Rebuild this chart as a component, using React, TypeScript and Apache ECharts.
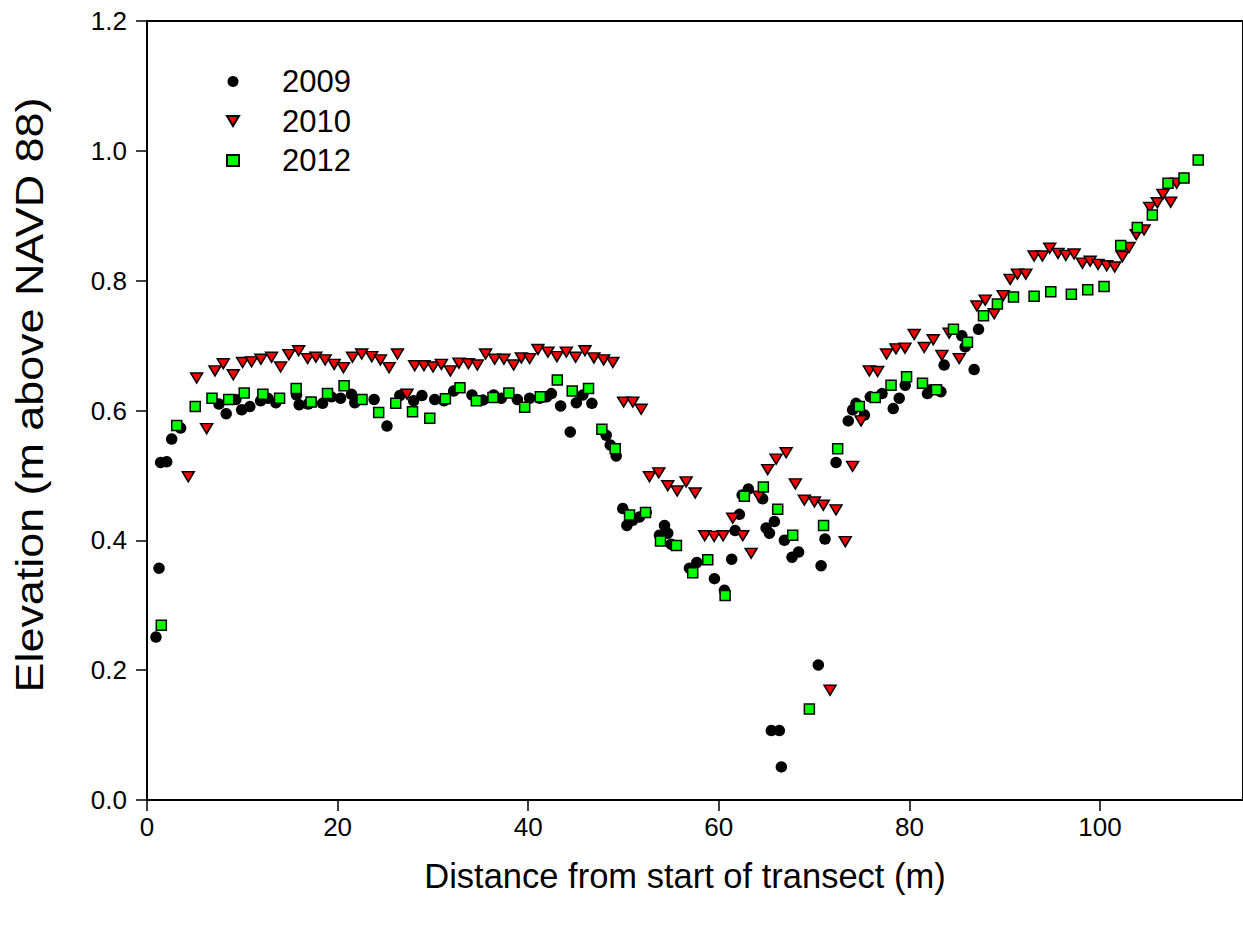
import React, { useEffect, useRef } from "react";
import * as echarts from "echarts";

// Transect survey: distance along transect (m) and elevation (m above NAVD 88)
const dist2009 = [0.94, 1.26, 1.43, 2.07, 2.59, 3.53, 7.55, 8.31, 9.33, 9.93, 10.79, 11.92, 12.68, 13.52, 15.69, 15.97, 16.91, 18.42, 19.36, 20.31, 21.46, 21.8, 23.83, 25.18, 26.52, 27.98, 28.85, 30.19, 31.16, 32.18, 34.1, 35.25, 36.37, 37.18, 38.86, 40.15, 41.2, 41.93, 42.43, 43.4, 44.41, 45.05, 45.73, 46.68, 48.18, 48.61, 49.23, 49.92, 50.35, 50.97, 51.67, 52.38, 53.77, 54.3, 54.64, 55.0, 56.92, 57.69, 59.54, 60.59, 61.35, 61.71, 62.16, 62.45, 63.1, 64.6, 64.96, 65.31, 65.83, 66.88, 67.68, 68.37, 65.51, 66.35, 66.56, 70.44, 70.73, 71.14, 72.3, 73.58, 74.04, 74.4, 75.27, 75.89, 77.12, 78.3, 78.93, 79.56, 81.89, 82.25, 83.3, 83.64, 85.5, 85.85, 86.79, 87.25];
const elev2009 = [0.251, 0.357, 0.52, 0.521, 0.556, 0.573, 0.61, 0.595, 0.617, 0.601, 0.606, 0.615, 0.619, 0.612, 0.624, 0.609, 0.61, 0.611, 0.621, 0.619, 0.625, 0.612, 0.617, 0.576, 0.623, 0.615, 0.623, 0.617, 0.615, 0.63, 0.624, 0.616, 0.624, 0.619, 0.617, 0.619, 0.619, 0.621, 0.626, 0.607, 0.567, 0.612, 0.624, 0.611, 0.562, 0.547, 0.53, 0.449, 0.423, 0.431, 0.436, 0.443, 0.408, 0.423, 0.411, 0.394, 0.357, 0.366, 0.341, 0.323, 0.371, 0.415, 0.44, 0.47, 0.479, 0.464, 0.419, 0.411, 0.429, 0.4, 0.374, 0.382, 0.107, 0.107, 0.051, 0.208, 0.361, 0.402, 0.52, 0.584, 0.601, 0.611, 0.593, 0.621, 0.626, 0.603, 0.619, 0.639, 0.626, 0.632, 0.629, 0.67, 0.715, 0.698, 0.663, 0.725];

const dist2010 = [4.33, 5.21, 6.26, 7.13, 8.0, 9.05, 10.03, 10.97, 11.95, 13.07, 14.02, 14.89, 15.91, 16.85, 17.72, 18.69, 19.64, 20.61, 21.56, 22.53, 23.58, 24.49, 25.4, 26.28, 27.28, 28.09, 29.06, 30.01, 30.89, 31.83, 32.73, 33.72, 34.66, 35.53, 36.48, 37.45, 38.47, 39.28, 40.15, 41.02, 42.07, 43.01, 44.0, 44.97, 45.95, 46.89, 47.91, 48.88, 50.01, 50.97, 51.85, 52.72, 53.7, 54.64, 55.63, 56.57, 57.52, 58.52, 59.51, 60.45, 61.46, 62.51, 63.39, 64.18, 65.13, 66.01, 67.06, 68.03, 68.98, 70.03, 70.96, 71.67, 72.3, 73.27, 74.04, 74.92, 75.79, 76.66, 77.6, 78.59, 79.53, 80.5, 81.55, 82.5, 83.41, 84.17, 85.22, 87.08, 87.95, 88.89, 89.84, 90.57, 91.33, 92.21, 93.08, 93.95, 94.72, 95.59, 96.41, 97.28, 98.15, 98.96, 99.79, 100.7, 101.54, 102.34, 103.04, 103.8, 104.62, 105.21, 106.01, 106.6, 107.41, 108.04];
const elev2010 = [0.498, 0.65, 0.572, 0.661, 0.672, 0.655, 0.674, 0.675, 0.679, 0.682, 0.667, 0.686, 0.692, 0.68, 0.682, 0.678, 0.671, 0.666, 0.682, 0.687, 0.683, 0.678, 0.666, 0.687, 0.625, 0.669, 0.669, 0.667, 0.671, 0.661, 0.673, 0.672, 0.67, 0.687, 0.679, 0.679, 0.67, 0.681, 0.68, 0.694, 0.69, 0.683, 0.69, 0.682, 0.692, 0.681, 0.678, 0.674, 0.613, 0.613, 0.602, 0.498, 0.504, 0.484, 0.476, 0.49, 0.473, 0.407, 0.406, 0.407, 0.434, 0.407, 0.38, 0.468, 0.509, 0.525, 0.535, 0.487, 0.462, 0.459, 0.454, 0.169, 0.447, 0.398, 0.514, 0.584, 0.661, 0.66, 0.687, 0.695, 0.696, 0.717, 0.697, 0.709, 0.685, 0.719, 0.68, 0.761, 0.77, 0.749, 0.777, 0.802, 0.81, 0.81, 0.838, 0.838, 0.85, 0.842, 0.839, 0.841, 0.827, 0.83, 0.825, 0.823, 0.821, 0.837, 0.851, 0.871, 0.878, 0.913, 0.92, 0.933, 0.921, 0.95];

const dist2012 = [1.5, 3.12, 5.06, 6.82, 8.57, 10.2, 12.16, 13.91, 15.65, 17.22, 18.94, 20.68, 22.56, 24.31, 26.1, 27.86, 29.67, 31.31, 32.84, 34.56, 36.3, 37.97, 39.63, 41.27, 43.05, 44.62, 46.33, 47.73, 49.13, 50.63, 52.31, 53.88, 55.55, 57.26, 58.84, 60.66, 62.68, 64.67, 66.18, 67.75, 69.5, 70.99, 72.47, 74.74, 76.41, 78.07, 79.7, 81.37, 82.84, 84.62, 86.09, 87.77, 89.23, 90.92, 93.08, 94.83, 96.99, 98.71, 100.42, 102.17, 103.91, 105.49, 107.13, 108.81, 110.3];
const elev2012 = [0.269, 0.577, 0.606, 0.619, 0.617, 0.627, 0.625, 0.619, 0.634, 0.613, 0.626, 0.638, 0.617, 0.597, 0.611, 0.598, 0.588, 0.618, 0.635, 0.615, 0.62, 0.627, 0.605, 0.621, 0.647, 0.63, 0.634, 0.571, 0.541, 0.439, 0.443, 0.399, 0.392, 0.35, 0.37, 0.315, 0.468, 0.482, 0.448, 0.408, 0.14, 0.423, 0.541, 0.606, 0.62, 0.639, 0.652, 0.642, 0.632, 0.725, 0.705, 0.746, 0.764, 0.775, 0.776, 0.783, 0.779, 0.786, 0.791, 0.854, 0.882, 0.901, 0.95, 0.958, 0.986];

const xTicks = { min: 0, max: 115, interval: 20 };
const yTicks = { min: 0, max: 1.2, interval: 0.2 };

const pairs = (xs: number[], ys: number[]) => xs.map((x, i) => [x, ys[i]]);

const FONT = "'Liberation Sans', Arial, sans-serif";
// downward-pointing triangle used for the 2010 legend entry
const TRIANGLE_DOWN = "path://M0,0 L12,0 L6,10 Z";

export default function App() {
  const ref = useRef<HTMLDivElement>(null);

  useEffect(() => {
    if (!ref.current) return;
    const chart = echarts.init(ref.current, null, { renderer: "svg" });
    const axisText = { color: "#000", fontFamily: FONT, fontSize: 26 };
    chart.setOption({
      animation: false,
      backgroundColor: "#fff",
      grid: {
        left: 147,
        top: 21,
        width: 1097.1,
        height: 779,
        show: true,
        borderColor: "#000",
        borderWidth: 2,
        backgroundColor: "transparent",
      },
      legend: {
        orient: "vertical",
        left: 221,
        top: 61,
        itemWidth: 12,
        itemHeight: 11,
        itemGap: 8.5,
        textStyle: { color: "#000", fontFamily: FONT, fontSize: 31, lineHeight: 30, padding: [0, 0, 0, 38] },
        data: [
          { name: "2009", icon: "circle" },
          { name: "2010", icon: TRIANGLE_DOWN },
          { name: "2012", icon: "rect" },
        ],
      },
      graphic: [
        {
          type: "text",
          x: 30,
          y: 395,
          rotation: Math.PI / 2,
          scaleX: 1.15,
          style: {
            text: "Elevation (m above NAVD 88)",
            fill: "#000",
            fontFamily: FONT,
            fontSize: 39,
            align: "center",
            verticalAlign: "middle",
          },
        },
      ],
      xAxis: {
        type: "value",
        min: xTicks.min,
        max: xTicks.max,
        interval: xTicks.interval,
        name: "Distance from start of transect (m)",
        nameLocation: "middle",
        nameGap: 58,
        nameTextStyle: { ...axisText, fontSize: 34.5, padding: [0, 20, 0, 0] },
        axisLine: { lineStyle: { color: "#000", width: 2 } },
        axisTick: { inside: false, length: 11, lineStyle: { color: "#000", width: 1.5 } },
        axisLabel: { ...axisText, margin: 14, showMaxLabel: false },
        splitLine: { show: false },
      },
      yAxis: {
        type: "value",
        min: yTicks.min,
        max: yTicks.max,
        interval: yTicks.interval,
        axisLine: { lineStyle: { color: "#000", width: 2 } },
        axisTick: { inside: false, length: 11, lineStyle: { color: "#000", width: 1.5 } },
        axisLabel: { ...axisText, margin: 20, formatter: (v: number) => v.toFixed(1) },
        splitLine: { show: false },
      },
      series: [
        {
          name: "2009",
          type: "scatter",
          symbol: "circle",
          symbolSize: 11.5,
          itemStyle: { color: "#000", opacity: 1 },
          data: pairs(dist2009, elev2009),
        },
        {
          name: "2010",
          type: "scatter",
          symbol: "triangle",
          symbolRotate: 180,
          symbolSize: [12, 10],
          itemStyle: { color: "#ff0000", borderColor: "#000", borderWidth: 1.5, opacity: 1 },
          data: pairs(dist2010, elev2010),
        },
        {
          name: "2012",
          type: "scatter",
          symbol: "rect",
          symbolSize: 10,
          itemStyle: { color: "#00ff00", borderColor: "#000", borderWidth: 1.5, opacity: 1 },
          data: pairs(dist2012, elev2012),
        },
      ],
    });
    return () => chart.dispose();
  }, []);

  return (
    <div
      ref={ref}
      style={{ position: "fixed", left: 0, top: 0, width: 1243, height: 932, background: "#fff" }}
    />
  );
}
